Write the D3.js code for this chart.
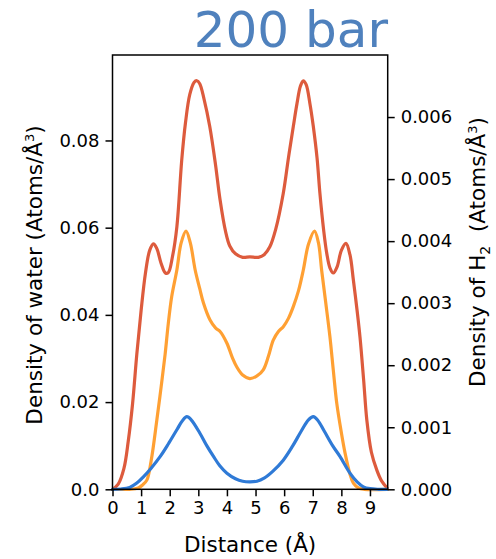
<!DOCTYPE html>
<html><head><meta charset="utf-8">
<script src="https://cdn.jsdelivr.net/npm/d3@7"></script>
<style>body{margin:0;background:#fff}svg{display:block}text{font-family:"DejaVu Sans",sans-serif}</style>
</head><body>
<svg id="c" width="496" height="559"></svg>
<script>
// Data
const titleText = "200 bar";
const xTicks = [0,1,2,3,4,5,6,7,8,9];
const yLeftTicks = [0, 0.02, 0.04, 0.06, 0.08];
const yLeftTickLabels = ["0.0","0.02","0.04","0.06","0.08"];
const yRightTicks = [0, 0.001, 0.002, 0.003, 0.004, 0.005, 0.006];
const yRightTickLabels = ["0.000","0.001","0.002","0.003","0.004","0.005","0.006"];

// water density (left axis) - red
const redX = [0,0.2,0.4,0.55,0.7,0.85,1.0,1.15,1.3,1.43,1.55,1.7,1.85,1.95,2.1,2.25,2.42,2.55,2.7,2.85,2.95,3.05,3.2,3.4,3.6,3.76,3.95,4.1,4.3,4.55,4.8,5.1,5.3,5.5,5.7,5.97,6.15,6.32,6.45,6.57,6.67,6.77,6.9,7.02,7.15,7.25,7.38,7.49,7.6,7.72,7.85,8.0,8.16,8.3,8.42,8.55,8.65,8.78,8.89,9.05,9.24,9.4,9.6];
const redY = [0,0.0012,0.0048,0.011,0.0195,0.031,0.041,0.0495,0.0548,0.0563,0.0552,0.0518,0.0496,0.0497,0.0535,0.0602,0.0755,0.0840,0.0905,0.0933,0.0937,0.0930,0.0895,0.0832,0.0745,0.0664,0.0592,0.0558,0.0540,0.0532,0.0533,0.0532,0.0538,0.0556,0.0595,0.0679,0.0760,0.0832,0.0885,0.0925,0.0937,0.0928,0.0885,0.0832,0.0760,0.0679,0.0595,0.0541,0.0508,0.0496,0.0510,0.0548,0.0564,0.0538,0.048,0.041,0.035,0.025,0.0159,0.0085,0.0044,0.002,0.0003];

// orange series (left axis)
const orangeX = [0,0.6,0.9,1.05,1.2,1.35,1.55,1.7,1.84,1.95,2.07,2.25,2.4,2.57,2.72,2.89,3.05,3.18,3.41,3.6,3.76,4.0,4.2,4.34,4.55,4.8,5.05,5.27,5.45,5.62,5.8,5.97,6.15,6.32,6.5,6.67,6.85,7.06,7.2,7.31,7.45,7.6,7.72,7.84,8.0,8.13,8.3,8.42,8.6,8.8,9.6];
const orangeY = [0,0,0.0003,0.001,0.0021,0.0065,0.0159,0.0235,0.031,0.038,0.0442,0.0503,0.0565,0.0592,0.0565,0.0503,0.046,0.0427,0.0388,0.037,0.0362,0.0335,0.0300,0.0281,0.0262,0.0254,0.0260,0.0274,0.0305,0.0342,0.0362,0.0373,0.0392,0.0419,0.0455,0.0503,0.0562,0.0592,0.0565,0.0503,0.043,0.035,0.0272,0.0197,0.013,0.0083,0.0035,0.0014,0.0003,0,0];

// H2 density (right axis) - blue
const blueX = [0,0.3,0.6,0.85,1.08,1.35,1.67,1.95,2.25,2.45,2.6,2.75,3.06,3.3,3.53,3.75,4.0,4.3,4.55,4.8,5.05,5.3,5.6,5.97,6.3,6.6,6.85,7.02,7.18,7.4,7.7,7.95,8.3,8.55,8.77,9.0,9.3,9.6];
const blueY = [0,0.000005,0.00003,0.0001,0.0002,0.00034,0.00053,0.00073,0.00096,0.00111,0.00117,0.00112,0.0009,0.0007,0.00053,0.00038,0.00026,0.00017,0.00013,0.00012,0.00013,0.00018,0.00029,0.00047,0.0007,0.00094,0.00112,0.00117,0.00111,0.00094,0.0007,0.00053,0.00026,0.00012,0.00004,0.00001,0,0];

const svg = d3.select("#c");
const L = 112.5, R = 387.7, T = 55, B = 489.3;
const x = d3.scaleLinear().domain([0, 9.62]).range([L, R]);
const yL = d3.scaleLinear().domain([0, 0.0996]).range([B, T]);
const yR = d3.scaleLinear().domain([0, 0.0070]).range([B, T]);

const g = svg.append("g");
function drawLine(xs, ys, ys2, color){
  const pts = xs.map((d,i)=>[d, ys[i]]);
  g.append("path").datum(pts)
    .attr("fill","none").attr("stroke",color).attr("stroke-width",3.2)
    .attr("stroke-linejoin","round").attr("stroke-linecap","round")
    .attr("d", d3.line().x(d=>x(d[0])).y(d=>Math.min(B, ys2(d[1]))).curve(d3.curveCatmullRom.alpha(0.5)));
}
drawLine(redX, redY, yL, "#dd5b3d");
drawLine(orangeX, orangeY, yL, "#ffa033");
drawLine(blueX, blueY, yR, "#2f7ad6");

// axes
const fs = 18;
const ax = svg.append("g").attr("transform",`translate(0,${B})`)
  .call(d3.axisBottom(x).tickValues(xTicks).tickFormat(d3.format("d")).tickSize(7).tickPadding(5));
const ayl = svg.append("g").attr("transform",`translate(${L},0)`)
  .call(d3.axisLeft(yL).tickValues(yLeftTicks).tickFormat((d,i)=>yLeftTickLabels[i]).tickSize(7).tickPadding(6));
const ayr = svg.append("g").attr("transform",`translate(${R},0)`)
  .call(d3.axisRight(yR).tickValues(yRightTicks).tickFormat((d,i)=>yRightTickLabels[i]).tickSize(7).tickPadding(6));
[ax,ayl,ayr].forEach(a=>{
  a.select(".domain").remove();
  a.selectAll(".tick line").attr("stroke","#000").attr("stroke-width",1.5);
  a.selectAll(".tick text").attr("fill","#000").style("font-size",fs+"px").style("font-family","DejaVu Sans");
});
// frame
svg.append("rect").attr("x",L).attr("y",T).attr("width",R-L).attr("height",B-T)
  .attr("fill","none").attr("stroke","#000").attr("stroke-width",1.5);

// labels
svg.append("text").attr("x",(L+R)/2 + 0).attr("y",552).attr("text-anchor","middle")
  .style("font-size","21.5px").attr("fill","#000").text("Distance (Å)");
const yl = svg.append("text").attr("transform","translate(42,275) rotate(-90)").attr("text-anchor","middle")
  .style("font-size","21.5px").attr("fill","#000");
yl.append("tspan").text("Density of water (Atoms/Å");
yl.append("tspan").attr("dy",-8).style("font-size","13px").text("3");
yl.append("tspan").attr("dy",8).text(")");
const yr = svg.append("text").attr("transform","translate(485,252) rotate(-90)").attr("text-anchor","middle")
  .style("font-size","21.5px").attr("fill","#000");
yr.append("tspan").text("Density of H");
yr.append("tspan").attr("dy",5).style("font-size","14px").text("2");
yr.append("tspan").attr("dy",-5).text("\u00a0\u00a0(Atoms/Å");
yr.append("tspan").attr("dy",-8).style("font-size","13px").text("3");
yr.append("tspan").attr("dy",8).text(")");

svg.append("text").attr("x",388).attr("y",47).attr("text-anchor","end")
  .style("font-size","50px").attr("fill","#4f81bd").text(titleText);
</script>
</body></html>
